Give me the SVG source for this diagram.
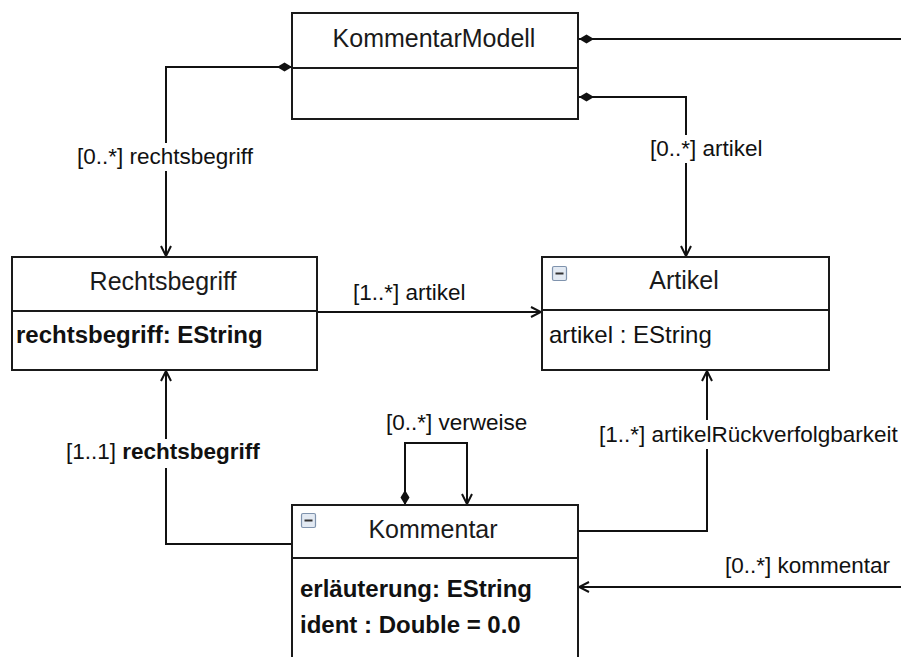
<svg xmlns="http://www.w3.org/2000/svg" width="901" height="657" viewBox="0 0 901 657">
<style>
.box{fill:#fff;stroke:#1a1a1a;stroke-width:2}
.div{stroke:#1a1a1a;stroke-width:2}
.title{font-family:"Liberation Sans",Arial,sans-serif;font-size:25px;fill:#1a1a1a;text-anchor:middle}
.attr{font-family:"Liberation Sans",Arial,sans-serif;font-size:24px;fill:#111}
.b{font-weight:bold}
.lbl{font-family:"Liberation Sans",Arial,sans-serif;font-size:22.5px;fill:#111}
.edge{fill:none;stroke:#111;stroke-width:2}
.bg{fill:#fff}
.icon{fill:#e3eaf3;stroke:#7f93ad;stroke-width:1.2}
</style>
<defs>
<marker id="arr" viewBox="0 0 12 12" refX="11" refY="6" markerWidth="12" markerHeight="12" markerUnits="userSpaceOnUse" orient="auto">
<path d="M1,1 L11,6 L1,11" fill="none" stroke="#111" stroke-width="2"/>
</marker>
<marker id="dia" viewBox="0 0 15 10" refX="0" refY="5" markerWidth="15" markerHeight="10" markerUnits="userSpaceOnUse" orient="auto">
<path d="M0,5 L7.5,0.5 L15,5 L7.5,9.5 Z" fill="#111"/>
</marker>
</defs>

<g id="connectors">
<path class="edge" d="M292,67 H166 V256" marker-start="url(#dia)" marker-end="url(#arr)"/>
<path class="edge" d="M579,39 H901" marker-start="url(#dia)"/>
<path class="edge" d="M579,97 H686 V256" marker-start="url(#dia)" marker-end="url(#arr)"/>
<path class="edge" d="M318,312 H541" marker-end="url(#arr)"/>
<path class="edge" d="M405,505 V443 H467 V504" marker-start="url(#dia)" marker-end="url(#arr)"/>
<path class="edge" d="M292,544 H166 V371" marker-end="url(#arr)"/>
<path class="edge" d="M579,531 H707 V371" marker-end="url(#arr)"/>
<path class="edge" d="M901,587 H579" marker-end="url(#arr)"/>
<rect class="bg" x="76" y="143" width="178" height="28"/>
<text class="lbl" x="77" y="164">[0..*] rechtsbegriff</text>
<rect class="bg" x="649" y="135" width="116" height="28"/>
<text class="lbl" x="650" y="156">[0..*] artikel</text>
<text class="lbl" x="353" y="300">[1..*] artikel</text>
<text class="lbl" x="386" y="430">[0..*] verweise</text>
<rect class="bg" x="65" y="439" width="198" height="29"/>
<text class="lbl" x="66" y="459">[1..1] <tspan class="b">rechtsbegriff</tspan></text>
<rect class="bg" x="598" y="420" width="302" height="29"/>
<text class="lbl" x="599" y="442">[1..*] artikelRückverfolgbarkeit</text>
<text class="lbl" x="725" y="573">[0..*] kommentar</text>
</g>

<g id="KommentarModell">
<rect class="box" x="292" y="13" width="286" height="106"/>
<line class="div" x1="292" y1="68" x2="578" y2="68"/>
<text class="title" x="434" y="47">KommentarModell</text>
</g>

<g id="Rechtsbegriff">
<rect class="box" x="12" y="257" width="305" height="113"/>
<line class="div" x1="12" y1="311" x2="317" y2="311"/>
<text class="title" x="163" y="290">Rechtsbegriff</text>
<text class="attr b" x="16" y="343">rechtsbegriff: EString</text>
</g>

<g id="Artikel">
<rect class="box" x="542" y="257" width="287" height="113"/>
<line class="div" x1="542" y1="310" x2="829" y2="310"/>
<rect class="icon" x="552.5" y="266.5" width="14" height="14" rx="1.5"/>
<line x1="555.5" y1="273.5" x2="563.5" y2="273.5" stroke="#333" stroke-width="2"/>
<text class="title" x="684" y="289">Artikel</text>
<text class="attr" x="549" y="343">artikel : EString</text>
</g>

<g id="Kommentar">
<rect class="box" x="292" y="505" width="286" height="180"/>
<line class="div" x1="292" y1="558" x2="578" y2="558"/>
<rect class="icon" x="301.5" y="513.5" width="14" height="14" rx="1.5"/>
<line x1="304.5" y1="520.5" x2="312.5" y2="520.5" stroke="#333" stroke-width="2"/>
<text class="title" x="433" y="538">Kommentar</text>
<text class="attr b" x="300" y="597">erläuterung: EString</text>
<text class="attr b" x="300" y="633">ident : Double = 0.0</text>
</g>
</svg>
